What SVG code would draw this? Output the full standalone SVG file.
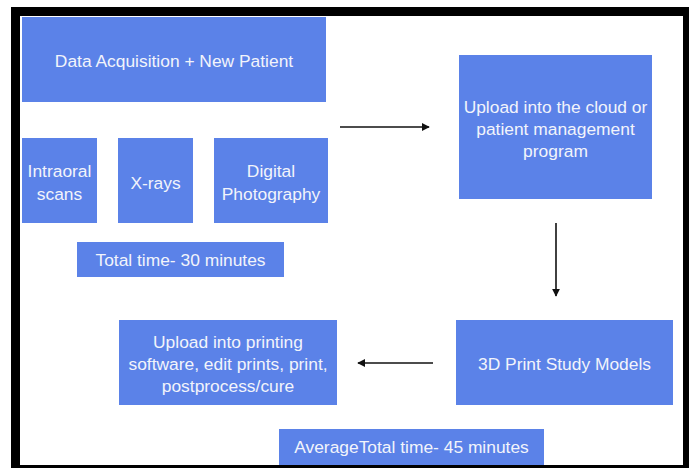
<svg xmlns="http://www.w3.org/2000/svg" width="694" height="470" viewBox="0 0 694 470">
<style>
.box{fill:#5B82E8}
.t{font-family:"Liberation Sans",Arial,sans-serif;font-size:17.4px;fill:#F2F4FB;text-anchor:middle}
.c{stroke:#111;stroke-width:1.6;fill:none}
</style>
<defs>
<marker id="ah" viewBox="0 0 10 10" refX="9" refY="5" markerWidth="8" markerHeight="8" markerUnits="userSpaceOnUse" orient="auto">
<path d="M0,0 L10,5 L0,10 Z" fill="#111"/>
</marker>
</defs>
<rect x="0" y="0" width="694" height="470" fill="#fff"/>
<rect x="11" y="7" width="678" height="461" fill="#000"/>
<rect x="20" y="16" width="663" height="449" fill="#fff"/>
<g id="data-acquisition"><rect class="box" x="22" y="17" width="304" height="85"/><text class="t" x="174" y="67">Data Acquisition + New Patient</text></g>
<g id="intraoral"><rect class="box" x="22" y="138" width="75" height="85"/><text class="t" x="59.5" y="177">Intraoral</text><text class="t" x="59.5" y="200">scans</text></g>
<g id="xrays"><rect class="box" x="118" y="138" width="75" height="85"/><text class="t" x="155.5" y="189">X-rays</text></g>
<g id="photo"><rect class="box" x="214" y="138" width="114" height="85"/><text class="t" x="271" y="177">Digital</text><text class="t" x="271" y="200">Photography</text></g>
<g id="total30"><rect class="box" x="77" y="242" width="207" height="35"/><text class="t" x="180.5" y="266">Total time- 30 minutes</text></g>
<g id="cloud"><rect class="box" x="459" y="55" width="193" height="144"/><text class="t" x="555.5" y="113">Upload into the cloud or</text><text class="t" x="555.5" y="135">patient management</text><text class="t" x="555.5" y="157">program</text></g>
<g id="print3d"><rect class="box" x="456" y="320" width="217" height="85"/><text class="t" x="564.5" y="370">3D Print Study Models</text></g>
<g id="printing-software"><rect class="box" x="119" y="320" width="218" height="85"/><text class="t" x="228" y="348">Upload into printing</text><text class="t" x="228" y="370">software, edit prints, print,</text><text class="t" x="228" y="392">postprocess/cure</text></g>
<g id="total45"><rect class="box" x="279" y="429" width="265" height="36"/><text class="t" x="411.5" y="453">AverageTotal time- 45 minutes</text></g>
<g id="connectors">
<line class="c" x1="340" y1="127" x2="429" y2="127" marker-end="url(#ah)"/>
<line class="c" x1="556" y1="223" x2="556" y2="296" marker-end="url(#ah)"/>
<line class="c" x1="433" y1="363" x2="358" y2="363" marker-end="url(#ah)"/>
</g>
</svg>
